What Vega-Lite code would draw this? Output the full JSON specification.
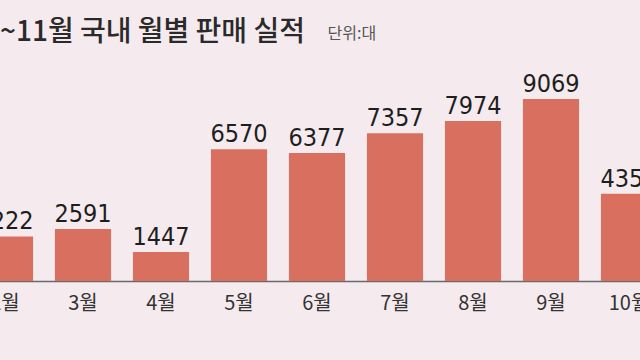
{
  "$schema": "https://vega.github.io/schema/vega-lite/v6.json",
  "width": 640,
  "height": 241,
  "autosize": "none",
  "padding": {"top": 40, "left": 0, "right": 0, "bottom": 79},
  "background": "#f5ebee",
  "config": {"view": {"stroke": null}},
  "title": {
    "text": "~11월 국내 월별 판매 실적",
    "anchor": "start",
    "frame": "group",
    "font": "Noto Sans CJK KR",
    "fontSize": 28,
    "fontWeight": 500,
    "color": "#2a2a2a",
    "offset": -22
  },
  "data": {
    "values": [
      {"month": "2월", "sales": 2222},
      {"month": "3월", "sales": 2591},
      {"month": "4월", "sales": 1447},
      {"month": "5월", "sales": 6570},
      {"month": "6월", "sales": 6377},
      {"month": "7월", "sales": 7357},
      {"month": "8월", "sales": 7974},
      {"month": "9월", "sales": 9069},
      {"month": "10월", "sales": 4350}
    ]
  },
  "encoding": {
    "x": {
      "field": "month",
      "type": "nominal",
      "sort": null,
      "scale": {"range": [-34, 668], "paddingInner": 0.28, "paddingOuter": 0.14},
      "axis": {
        "title": null,
        "labelAngle": 0,
        "labelFont": "Noto Sans CJK KR",
        "labelFontSize": 20,
        "labelColor": "#333333",
        "labelPadding": 12,
        "ticks": false,
        "domainColor": "#6a6a6a",
        "domainWidth": 1.5,
        "labelOverlap": false,
        "labelBound": false
      }
    },
    "y": {
      "field": "sales",
      "type": "quantitative",
      "scale": {"domain": [0, 12009], "nice": false},
      "axis": {
        "labels": false,
        "ticks": false,
        "domain": false,
        "grid": false,
        "title": "단위:대",
        "titleAngle": 0,
        "titleX": 327,
        "titleY": -2,
        "titleAlign": "left",
        "titleBaseline": "alphabetic",
        "titleFont": "Noto Sans CJK KR",
        "titleFontSize": 16,
        "titleFontWeight": "normal",
        "titleColor": "#555555"
      }
    }
  },
  "layer": [
    {"mark": {"type": "bar", "color": "#d9705f"}},
    {
      "mark": {
        "type": "text",
        "baseline": "alphabetic",
        "dy": -7,
        "font": "DejaVu Sans Condensed, Liberation Sans, sans-serif",
        "fontSize": 25,
        "color": "#1e1e1e"
      },
      "encoding": {"text": {"field": "sales", "type": "quantitative", "format": "d"}}
    }
  ]
}
